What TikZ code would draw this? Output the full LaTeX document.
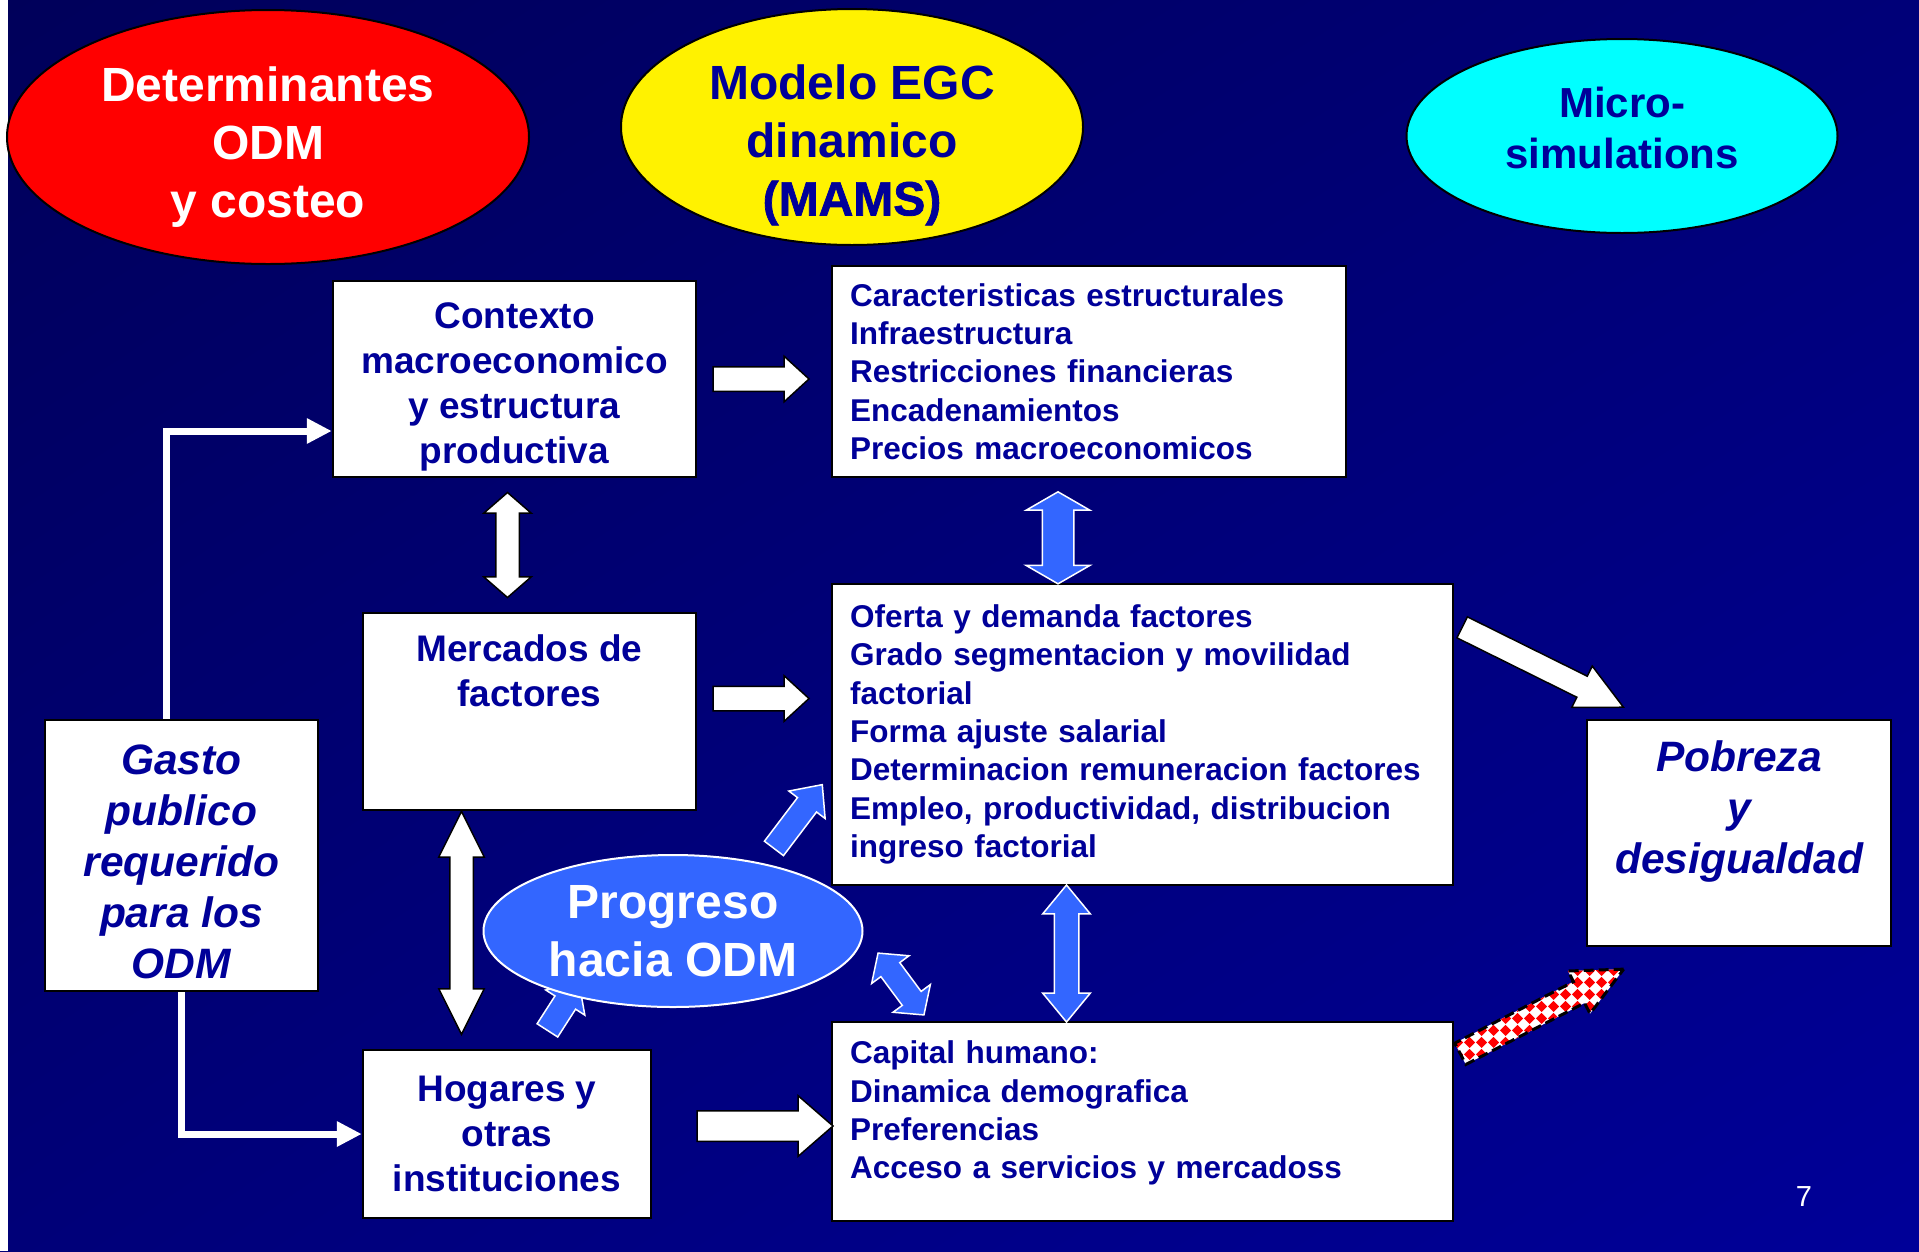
\documentclass[tikz,border=0pt]{standalone}
\usepackage{fontspec}
\setmainfont{Liberation Sans}
\usetikzlibrary{arrows.meta,shapes.geometric,shapes.arrows,patterns,shadings}
\definecolor{bgdark}{HTML}{00005A}
\definecolor{bgmid}{HTML}{000078}
\definecolor{bglight}{HTML}{000098}
\definecolor{odmtext}{HTML}{000099}
\definecolor{odmblue}{HTML}{3366FF}
\definecolor{odmcyan}{HTML}{00FFFF}
\pgfdeclarepatternformonly{redchecks}{\pgfqpoint{0pt}{0pt}}{\pgfqpoint{12pt}{12pt}}{\pgfqpoint{12pt}{12pt}}{%
  \pgfpathmoveto{\pgfqpoint{6pt}{0pt}}\pgfpathlineto{\pgfqpoint{12pt}{6pt}}%
  \pgfpathlineto{\pgfqpoint{6pt}{12pt}}\pgfpathlineto{\pgfqpoint{0pt}{6pt}}%
  \pgfpathclose\pgfusepath{fill}}
\tikzset{box/.style={draw=black,line width=2.5pt,fill=white,text=odmtext,align=center,inner sep=0pt,font=\bfseries\fontsize{37}{45}\selectfont},lst/.style={box,align=left,inner xsep=18pt,font=\bfseries\fontsize{31.5}{38.3}\selectfont},ital/.style={box,font=\bfseries\itshape\fontsize{42.5}{51}\selectfont},oval/.style={ellipse,draw=black,line width=2pt,inner sep=0pt},ovaltxt/.style={align=center,inner sep=0pt,font=\bfseries\fontsize{48}{58}\selectfont},conn/.style={draw=white,line width=7pt,-{Triangle[length=25pt,width=24pt]}},warrow/.style={single arrow,draw=black,fill=white,line width=1.5pt,inner xsep=0pt,minimum width=0pt,sloped,allow upside down,pos=0,anchor=tail},wdarrow/.style={double arrow,draw=black,fill=white,line width=1.5pt,inner xsep=0pt,minimum width=0pt,sloped,allow upside down},barrow/.style={single arrow,draw=white,fill=odmblue,line width=1.5pt,inner xsep=0pt,minimum width=0pt,sloped,allow upside down,pos=0,anchor=tail},bdarrow/.style={double arrow,draw=white,fill=odmblue,line width=1.5pt,inner xsep=0pt,minimum width=0pt,sloped,allow upside down},chkarrow/.style={single arrow,draw=black,line width=3pt,dash pattern=on 10pt off 5pt,preaction={fill=white},pattern=redchecks,pattern color=red,inner xsep=0pt,minimum width=0pt,sloped,allow upside down,pos=0,anchor=tail}}
\begin{document}
\begin{tikzpicture}[x=1pt,y=-1pt]
\useasboundingbox (0,0) rectangle (1919,1251);
\shade[upper left=bgdark,upper right=bgmid,lower left=bgmid,lower right=bglight] (0,0) rectangle (1919,1251);
\fill[white] (0,0) rectangle (8,1251);
% top ovals
\node[oval,fill=red,minimum width=522pt,minimum height=254pt,label={[ovaltxt,text=white,yshift=-10pt]center:{Determinantes\\ODM\\y costeo}}] (det) at (268,137) {};
\node[oval,fill=yellow,minimum width=462pt,minimum height=236pt,label={[ovaltxt,text=odmtext,yshift=-18pt]center:{Modelo EGC\\dinamico\\{\addfontfeature{FakeBold=1.5}(MAMS)}}}] (egc) at (852,127) {};
\node[oval,fill=odmcyan,minimum width=431pt,minimum height=194pt,label={[ovaltxt,text=odmtext,yshift=8.5pt,font=\bfseries\fontsize{42}{51}\selectfont]center:{Micro-\\simulations}}] (mic) at (1622,136) {};
% boxes
\node[box,minimum width=363pt,minimum height=196pt] (ctx) at (514.5,379) {\rule{0pt}{41pt}Contexto\\macroeconomico\\y estructura\\productiva};
\node[lst,text width=478pt,minimum height=211pt] (car) at (1089,371.5) {Caracteristicas estructurales\\Infraestructura\\Restricciones financieras\\Encadenamientos\\Precios macroeconomicos};
\node[box,minimum width=333pt,minimum height=197pt] (mer) at (529.5,711.5) {Mercados de\\factores\\[36pt]\mbox{}};
\node[lst,text width=585pt,minimum height=301pt] (ofe) at (1142.5,734.5) {Oferta y demanda factores\\Grado segmentacion y movilidad\\factorial\\Forma ajuste salarial\\Determinacion remuneracion factores\\Empleo, productividad, distribucion\\ingreso factorial};
\node[ital,minimum width=273pt,minimum height=271pt] (gas) at (181.5,855.5) {\rule{0pt}{42pt}Gasto\\publico\\requerido\\para los\\ODM};
\node[ital,minimum width=304pt,minimum height=226pt] (pob) at (1739,833) {Pobreza\\y\\desigualdad\\\mbox{}};
\node[box,minimum width=288pt,minimum height=168pt] (hog) at (507,1134) {Hogares y\\otras\\instituciones};
\node[lst,text width=585pt,minimum height=199pt] (cap) at (1142.5,1121.5) {Capital humano:\\Dinamica demografica\\Preferencias\\Acceso a servicios y mercadoss\\[-15pt]\mbox{}};
% arrow under the progress oval
\coordinate (h1) at (547,1031);
\coordinate (h2) at (578.5,982);
\path (h1) -- (h2) node[barrow,minimum height=58pt,inner ysep=11.5pt,single arrow head extend=11pt,single arrow tip angle=86] {};
\node[ellipse,fill=odmblue,draw=white,line width=2pt,inner sep=0pt,align=center,text=white,font=\bfseries\fontsize{48}{58}\selectfont,minimum width=379pt,minimum height=152pt] (prog) at (673,931) {Progreso\\hacia ODM};
\node[text=white,font=\fontsize{29}{34}\selectfont] (pg) at (1804,1197) {7};
% public spending lines
\draw[conn] ([xshift=-15pt]gas.north) |- ([yshift=-52pt]ctx.west);
\draw[conn] (gas.south) |- (hog.west);
% white block arrows
\path ([xshift=15pt]ctx.east) -- (car.west |- ctx.east) node[warrow,minimum height=96pt,inner ysep=11.5pt,single arrow head extend=10.5pt,single arrow tip angle=85] {};
\path ([xshift=15pt,yshift=13pt]mer.east) -- ([yshift=13pt]mer.east -| ofe.west) node[warrow,minimum height=96pt,inner ysep=11.5pt,single arrow head extend=10.5pt,single arrow tip angle=85] {};
\path ([xshift=44pt,yshift=8pt]hog.east) -- ([yshift=8pt]hog.east -| cap.west) node[warrow,minimum height=136pt,inner ysep=14.5pt,single arrow head extend=15pt,single arrow tip angle=82] {};
\path ([xshift=-7pt]ctx.south) -- ([xshift=-7pt]ctx.south |- mer.north) node[midway,wdarrow,minimum height=105pt,inner ysep=11pt,double arrow head extend=12pt,double arrow tip angle=98] {};
\path ([xshift=-68pt]mer.south) -- ([xshift=-68pt]mer.south |- hog.north) node[pos=0.47,wdarrow,minimum height=223pt,inner ysep=11pt,double arrow head extend=11pt,double arrow tip angle=53] {};
\coordinate (o1) at (1461.5,627);
\coordinate (o2) at (1623,707);
\path (o1) -- (o2) node[warrow,minimum height=180pt,inner ysep=11pt,single arrow head extend=11.3pt,single arrow tip angle=53] {};
% blue block arrows
\path ([xshift=-31pt]car.south) -- ([xshift=-31pt]car.south |- ofe.north) node[pos=0.57,bdarrow,minimum height=92pt,inner ysep=15pt,double arrow head extend=16pt,double arrow tip angle=120] {};
\path ([xshift=-76pt]ofe.south) -- ([xshift=-76pt]ofe.south |- cap.north) node[midway,bdarrow,minimum height=137pt,inner ysep=11.5pt,double arrow head extend=11.5pt,double arrow tip angle=79] {};
\coordinate (p1) at (773.5,849);
\coordinate (p2) at (822,785);
\path (p1) -- (p2) node[barrow,minimum height=80pt,inner ysep=11.2pt,single arrow head extend=10.8pt,single arrow tip angle=84] {};
\coordinate (q1) at (878,953);
\coordinate (q2) at (924,1015);
\path (q1) -- (q2) node[midway,bdarrow,minimum height=77pt,inner ysep=11pt,double arrow head extend=11.5pt,double arrow tip angle=97] {};
% chequered arrow
\coordinate (k1) at (1459,1054.5);
\coordinate (k2) at (1622,970);
\path (k1) -- (k2) node[chkarrow,minimum height=184pt,inner ysep=10.5pt,single arrow head extend=12pt,single arrow tip angle=51] {};
\end{tikzpicture}
\end{document}
